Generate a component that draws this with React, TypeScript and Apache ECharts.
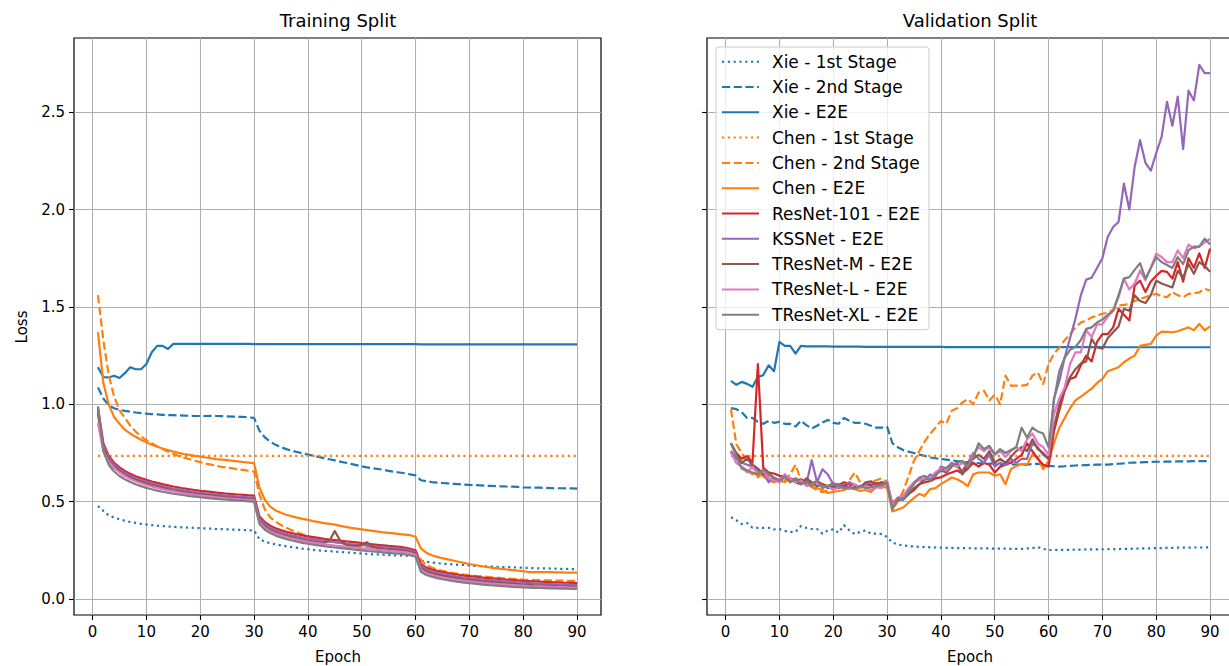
import React, { useEffect, useRef } from "react";
import * as echarts from "echarts";

const epochs = Array.from({ length: 90 }, (_, i) => i + 1);
const xTicks = [0, 10, 20, 30, 40, 50, 60, 70, 80, 90];
const yTicks = [0, 0.5, 1.0, 1.5, 2.0, 2.5];

const seriesNames = [
  "Xie - 1st Stage", "Xie - 2nd Stage", "Xie - E2E",
  "Chen - 1st Stage", "Chen - 2nd Stage", "Chen - E2E",
  "ResNet-101 - E2E", "KSSNet - E2E", "TResNet-M - E2E", "TResNet-L - E2E", "TResNet-XL - E2E",
];

// ---------------- Training split ----------------
const trainXie1 = [
  0.478,0.453,0.430,0.418,0.410,0.402,0.396,0.391,0.386,0.383,
  0.380,0.377,0.375,0.373,0.371,0.369,0.368,0.367,0.365,0.364,
  0.363,0.362,0.360,0.359,0.358,0.357,0.356,0.355,0.353,0.352,
  0.307,0.295,0.287,0.281,0.276,0.271,0.267,0.263,0.259,0.256,
  0.253,0.250,0.248,0.246,0.244,0.242,0.240,0.238,0.236,0.234,
  0.232,0.230,0.229,0.228,0.226,0.225,0.224,0.223,0.222,0.221,
  0.198,0.192,0.188,0.185,0.182,0.180,0.178,0.176,0.175,0.173,
  0.171,0.170,0.168,0.167,0.166,0.165,0.164,0.163,0.162,0.161,
  0.160,0.159,0.158,0.158,0.157,0.156,0.155,0.155,0.154,0.153,
];
const trainXie2 = [
  1.087,1.030,0.995,0.980,0.972,0.966,0.962,0.958,0.955,0.952,
  0.950,0.948,0.946,0.945,0.944,0.943,0.942,0.941,0.940,0.940,
  0.940,0.941,0.940,0.939,0.938,0.937,0.936,0.935,0.933,0.930,
  0.864,0.830,0.808,0.792,0.780,0.770,0.762,0.755,0.748,0.742,
  0.736,0.730,0.724,0.718,0.712,0.706,0.700,0.694,0.688,0.682,
  0.676,0.672,0.668,0.664,0.658,0.654,0.650,0.646,0.640,0.635,
  0.610,0.605,0.601,0.598,0.596,0.594,0.592,0.590,0.588,0.586,
  0.585,0.584,0.582,0.581,0.580,0.579,0.578,0.577,0.576,0.574,
  0.573,0.572,0.572,0.571,0.570,0.569,0.569,0.568,0.568,0.567,
];
const trainXieE2E = [
  1.190,1.140,1.138,1.147,1.135,1.160,1.190,1.180,1.180,1.207,
  1.267,1.300,1.300,1.284,1.310,1.310,1.310,1.310,1.310,1.310,
  1.310,1.310,1.310,1.310,1.310,1.310,1.310,1.310,1.310,1.309,
  1.309,1.309,1.309,1.309,1.309,1.309,1.309,1.309,1.309,1.309,
  1.309,1.309,1.309,1.309,1.309,1.309,1.309,1.309,1.309,1.309,
  1.309,1.309,1.309,1.309,1.309,1.309,1.309,1.309,1.309,1.309,
  1.308,1.308,1.308,1.308,1.308,1.308,1.308,1.308,1.308,1.308,
  1.308,1.308,1.308,1.308,1.308,1.308,1.308,1.308,1.308,1.308,
  1.308,1.308,1.308,1.308,1.308,1.308,1.308,1.308,1.308,1.308,
];
const trainChen1 = [
  0.735,0.735,0.735,0.735,0.735,0.735,0.735,0.735,0.735,0.735,
  0.735,0.735,0.735,0.735,0.735,0.735,0.735,0.735,0.735,0.735,
  0.735,0.735,0.735,0.735,0.735,0.735,0.735,0.735,0.735,0.735,
  0.735,0.735,0.735,0.735,0.735,0.735,0.735,0.735,0.735,0.735,
  0.735,0.735,0.735,0.735,0.735,0.735,0.735,0.735,0.735,0.735,
  0.735,0.735,0.735,0.735,0.735,0.735,0.735,0.735,0.735,0.735,
  0.735,0.735,0.735,0.735,0.735,0.735,0.735,0.735,0.735,0.735,
  0.735,0.735,0.735,0.735,0.735,0.735,0.735,0.735,0.735,0.735,
  0.735,0.735,0.735,0.735,0.735,0.735,0.735,0.735,0.735,0.735,
];
const trainChen2 = [
  1.560,1.330,1.150,1.040,0.970,0.930,0.890,0.860,0.835,0.816,
  0.800,0.785,0.770,0.758,0.746,0.735,0.726,0.718,0.710,0.703,
  0.696,0.690,0.684,0.679,0.675,0.671,0.667,0.663,0.659,0.655,
  0.538,0.460,0.420,0.398,0.380,0.366,0.354,0.343,0.333,0.324,
  0.315,0.308,0.302,0.297,0.292,0.287,0.283,0.279,0.275,0.272,
  0.269,0.266,0.263,0.260,0.258,0.256,0.254,0.252,0.250,0.248,
  0.200,0.175,0.162,0.152,0.145,0.139,0.134,0.130,0.126,0.123,
  0.120,0.117,0.115,0.112,0.110,0.108,0.106,0.104,0.102,0.100,
  0.099,0.098,0.097,0.096,0.096,0.095,0.095,0.094,0.094,0.093,
];
const trainChenE2E = [
  1.370,1.110,1.000,0.935,0.900,0.870,0.850,0.833,0.818,0.805,
  0.792,0.782,0.773,0.765,0.758,0.751,0.745,0.740,0.735,0.731,
  0.727,0.723,0.719,0.716,0.713,0.710,0.707,0.704,0.701,0.698,
  0.572,0.510,0.475,0.455,0.443,0.433,0.425,0.418,0.412,0.407,
  0.400,0.395,0.390,0.386,0.382,0.376,0.371,0.366,0.362,0.358,
  0.354,0.350,0.346,0.343,0.340,0.337,0.334,0.331,0.328,0.320,
  0.260,0.238,0.225,0.217,0.210,0.204,0.198,0.192,0.186,0.180,
  0.175,0.170,0.166,0.162,0.158,0.155,0.152,0.149,0.146,0.144,
  0.139,0.139,0.138,0.138,0.138,0.137,0.137,0.136,0.136,0.136,
];
const trainResNet = [
  0.985,0.800,0.735,0.700,0.676,0.658,0.643,0.631,0.621,0.612,
  0.604,0.597,0.590,0.584,0.578,0.573,0.568,0.564,0.560,0.556,
  0.553,0.550,0.547,0.544,0.541,0.539,0.537,0.535,0.533,0.531,
  0.425,0.395,0.377,0.364,0.354,0.346,0.339,0.333,0.327,0.322,
  0.318,0.314,0.310,0.306,0.303,0.300,0.297,0.294,0.291,0.287,
  0.284,0.281,0.278,0.276,0.273,0.271,0.268,0.265,0.258,0.250,
  0.180,0.162,0.152,0.145,0.139,0.134,0.129,0.125,0.121,0.118,
  0.115,0.112,0.109,0.107,0.105,0.102,0.100,0.098,0.096,0.094,
  0.093,0.091,0.090,0.088,0.087,0.086,0.085,0.084,0.083,0.082,
];
const trainKSS = [
  0.950,0.790,0.725,0.690,0.666,0.648,0.633,0.621,0.611,0.602,
  0.594,0.587,0.580,0.574,0.568,0.563,0.558,0.554,0.550,0.546,
  0.543,0.540,0.537,0.534,0.531,0.529,0.527,0.525,0.523,0.521,
  0.412,0.383,0.366,0.353,0.343,0.335,0.328,0.322,0.316,0.311,
  0.307,0.303,0.299,0.295,0.292,0.289,0.286,0.283,0.281,0.278,
  0.275,0.272,0.269,0.267,0.264,0.262,0.259,0.256,0.250,0.242,
  0.170,0.152,0.142,0.135,0.129,0.124,0.119,0.115,0.111,0.108,
  0.105,0.102,0.099,0.097,0.095,0.092,0.090,0.088,0.086,0.084,
  0.083,0.081,0.080,0.078,0.077,0.076,0.075,0.074,0.073,0.072,
];
const trainTResM = [
  0.960,0.775,0.712,0.680,0.657,0.639,0.624,0.612,0.602,0.593,
  0.585,0.578,0.571,0.565,0.559,0.554,0.549,0.545,0.541,0.538,
  0.535,0.532,0.529,0.526,0.523,0.521,0.519,0.517,0.515,0.513,
  0.402,0.373,0.356,0.343,0.333,0.325,0.318,0.312,0.306,0.301,
  0.297,0.293,0.290,0.300,0.350,0.300,0.280,0.275,0.272,0.279,
  0.292,0.268,0.260,0.257,0.255,0.253,0.251,0.248,0.242,0.235,
  0.160,0.143,0.133,0.126,0.120,0.115,0.110,0.106,0.102,0.099,
  0.096,0.093,0.090,0.088,0.086,0.083,0.081,0.079,0.077,0.075,
  0.074,0.072,0.071,0.069,0.068,0.067,0.066,0.065,0.064,0.063,
];
const trainTResL = [
  0.905,0.760,0.705,0.673,0.650,0.632,0.617,0.605,0.595,0.586,
  0.578,0.571,0.564,0.558,0.553,0.548,0.543,0.539,0.535,0.532,
  0.529,0.526,0.523,0.520,0.517,0.515,0.513,0.511,0.509,0.507,
  0.395,0.366,0.349,0.336,0.326,0.318,0.311,0.305,0.299,0.294,
  0.290,0.286,0.282,0.279,0.275,0.272,0.269,0.266,0.264,0.261,
  0.258,0.256,0.253,0.251,0.248,0.246,0.244,0.241,0.236,0.228,
  0.150,0.133,0.124,0.117,0.111,0.106,0.101,0.097,0.094,0.091,
  0.088,0.085,0.082,0.080,0.078,0.076,0.074,0.072,0.070,0.069,
  0.067,0.066,0.065,0.064,0.063,0.062,0.061,0.060,0.059,0.059,
];
const trainTResXL = [
  0.990,0.760,0.690,0.655,0.632,0.615,0.601,0.590,0.580,0.571,
  0.564,0.557,0.551,0.546,0.541,0.537,0.533,0.529,0.526,0.523,
  0.520,0.517,0.515,0.512,0.510,0.508,0.506,0.504,0.502,0.500,
  0.385,0.356,0.339,0.326,0.316,0.308,0.301,0.295,0.289,0.284,
  0.280,0.276,0.272,0.268,0.265,0.262,0.259,0.256,0.253,0.250,
  0.247,0.245,0.242,0.240,0.237,0.235,0.233,0.230,0.225,0.218,
  0.140,0.124,0.115,0.108,0.102,0.097,0.092,0.088,0.085,0.082,
  0.079,0.076,0.073,0.071,0.069,0.067,0.065,0.063,0.062,0.060,
  0.059,0.058,0.057,0.056,0.055,0.055,0.054,0.054,0.053,0.053,
];

// ---------------- Validation split ----------------
const valXie1 = [
  0.420,0.405,0.385,0.390,0.367,0.366,0.366,0.366,0.358,0.360,
  0.350,0.345,0.345,0.375,0.366,0.360,0.360,0.336,0.353,0.358,
  0.341,0.379,0.353,0.334,0.345,0.353,0.336,0.336,0.334,0.319,
  0.290,0.280,0.276,0.272,0.270,0.268,0.267,0.266,0.265,0.264,
  0.263,0.263,0.262,0.262,0.261,0.261,0.260,0.260,0.260,0.259,
  0.259,0.259,0.258,0.258,0.258,0.260,0.262,0.267,0.258,0.252,
  0.252,0.253,0.253,0.253,0.254,0.254,0.255,0.255,0.255,0.256,
  0.256,0.257,0.257,0.258,0.258,0.259,0.260,0.260,0.261,0.262,
  0.262,0.263,0.263,0.264,0.264,0.264,0.265,0.265,0.265,0.266,
];
const valXie2 = [
  0.980,0.975,0.960,0.930,0.930,0.910,0.900,0.915,0.905,0.910,
  0.900,0.900,0.886,0.916,0.893,0.876,0.890,0.907,0.920,0.905,
  0.900,0.930,0.915,0.905,0.905,0.900,0.890,0.880,0.880,0.885,
  0.800,0.780,0.765,0.757,0.750,0.742,0.735,0.727,0.723,0.720,
  0.716,0.712,0.709,0.705,0.702,0.700,0.698,0.697,0.696,0.695,
  0.694,0.693,0.692,0.691,0.690,0.690,0.693,0.695,0.690,0.684,
  0.682,0.680,0.682,0.684,0.686,0.687,0.688,0.689,0.690,0.690,
  0.690,0.693,0.695,0.697,0.700,0.701,0.702,0.703,0.704,0.705,
  0.705,0.706,0.706,0.707,0.707,0.707,0.708,0.708,0.708,0.709,
];
const valXieE2E = [
  1.120,1.100,1.115,1.105,1.090,1.140,1.150,1.200,1.170,1.320,
  1.300,1.300,1.260,1.300,1.297,1.297,1.298,1.297,1.297,1.296,
  1.296,1.296,1.296,1.296,1.296,1.295,1.295,1.295,1.295,1.295,
  1.295,1.295,1.295,1.295,1.295,1.295,1.295,1.295,1.295,1.295,
  1.294,1.294,1.294,1.294,1.294,1.294,1.294,1.294,1.294,1.294,
  1.294,1.294,1.294,1.294,1.294,1.294,1.294,1.294,1.294,1.294,
  1.294,1.294,1.294,1.294,1.294,1.294,1.294,1.294,1.294,1.294,
  1.293,1.293,1.293,1.293,1.293,1.293,1.293,1.293,1.293,1.293,
  1.293,1.293,1.293,1.293,1.293,1.293,1.293,1.293,1.293,1.293,
];
const valChen1 = [
  0.735,0.735,0.735,0.735,0.735,0.735,0.735,0.735,0.735,0.735,
  0.735,0.735,0.735,0.735,0.735,0.735,0.735,0.735,0.735,0.735,
  0.735,0.735,0.735,0.735,0.735,0.735,0.735,0.735,0.735,0.735,
  0.735,0.735,0.735,0.735,0.735,0.735,0.735,0.735,0.735,0.735,
  0.735,0.735,0.735,0.735,0.735,0.735,0.735,0.735,0.735,0.735,
  0.735,0.735,0.735,0.735,0.735,0.735,0.735,0.735,0.735,0.735,
  0.735,0.735,0.735,0.735,0.735,0.735,0.735,0.735,0.735,0.735,
  0.735,0.735,0.735,0.735,0.735,0.735,0.735,0.735,0.735,0.735,
  0.735,0.735,0.735,0.735,0.735,0.735,0.735,0.735,0.735,0.735,
];
const valChen2 = [
  0.975,0.795,0.750,0.710,0.680,0.625,0.650,0.630,0.620,0.605,
  0.610,0.640,0.690,0.610,0.590,0.575,0.560,0.548,0.560,0.575,
  0.580,0.575,0.610,0.650,0.600,0.585,0.600,0.610,0.620,0.600,
  0.460,0.500,0.555,0.630,0.710,0.760,0.810,0.850,0.880,0.915,
  0.900,0.967,0.980,1.010,1.027,1.000,1.060,1.070,1.020,1.050,
  1.000,1.147,1.096,1.096,1.096,1.100,1.147,1.164,1.104,1.207,
  1.260,1.290,1.330,1.360,1.395,1.420,1.430,1.447,1.455,1.465,
  1.470,1.485,1.507,1.510,1.516,1.530,1.540,1.550,1.560,1.567,
  1.555,1.550,1.576,1.560,1.550,1.567,1.570,1.575,1.593,1.584,
];
const valChenE2E = [
  0.760,0.700,0.680,0.660,0.640,0.650,0.630,0.610,0.600,0.610,
  0.600,0.620,0.600,0.590,0.610,0.580,0.570,0.560,0.545,0.550,
  0.555,0.560,0.570,0.565,0.555,0.560,0.550,0.575,0.580,0.570,
  0.450,0.460,0.470,0.495,0.520,0.540,0.530,0.565,0.570,0.590,
  0.607,0.624,0.615,0.600,0.580,0.641,0.650,0.650,0.650,0.633,
  0.641,0.590,0.667,0.684,0.693,0.690,0.744,0.727,0.667,0.710,
  0.800,0.880,0.930,0.980,1.020,1.040,1.060,1.080,1.110,1.130,
  1.170,1.180,1.190,1.216,1.235,1.250,1.300,1.305,1.310,1.353,
  1.373,1.372,1.370,1.375,1.385,1.395,1.380,1.413,1.380,1.400,
];
const valResNet = [
  0.800,0.750,0.720,0.735,0.700,1.207,0.675,0.650,0.645,0.633,
  0.630,0.620,0.610,0.615,0.600,0.595,0.605,0.590,0.580,0.595,
  0.585,0.600,0.590,0.575,0.580,0.590,0.585,0.595,0.590,0.595,
  0.490,0.520,0.515,0.540,0.560,0.590,0.600,0.605,0.620,0.625,
  0.640,0.650,0.660,0.645,0.670,0.700,0.680,0.700,0.690,0.650,
  0.680,0.690,0.700,0.720,0.740,0.800,0.760,0.720,0.690,0.680,
  0.860,0.970,1.070,1.130,1.140,1.200,1.250,1.220,1.320,1.360,
  1.360,1.395,1.490,1.460,1.430,1.610,1.635,1.576,1.630,1.660,
  1.685,1.680,1.645,1.730,1.630,1.750,1.700,1.775,1.700,1.800,
];
const valKSS = [
  0.760,0.720,0.700,0.690,0.680,0.660,0.650,0.600,0.625,0.610,
  0.640,0.600,0.620,0.600,0.590,0.713,0.600,0.667,0.640,0.590,
  0.590,0.580,0.600,0.585,0.575,0.590,0.600,0.590,0.600,0.585,
  0.470,0.510,0.530,0.560,0.600,0.620,0.610,0.640,0.630,0.680,
  0.670,0.700,0.680,0.660,0.700,0.750,0.720,0.700,0.740,0.680,
  0.700,0.690,0.720,0.700,0.720,0.720,0.800,0.780,0.740,0.720,
  1.030,1.120,1.240,1.340,1.440,1.560,1.640,1.650,1.700,1.750,
  1.860,1.910,1.936,2.133,2.000,2.220,2.356,2.240,2.200,2.290,
  2.373,2.553,2.430,2.580,2.310,2.610,2.560,2.742,2.700,2.700,
];
const valTResM = [
  0.800,0.740,0.700,0.720,0.690,0.670,0.640,0.650,0.620,0.600,
  0.630,0.610,0.600,0.590,0.620,0.600,0.580,0.590,0.570,0.580,
  0.570,0.585,0.575,0.580,0.570,0.600,0.605,0.590,0.600,0.595,
  0.480,0.510,0.510,0.540,0.570,0.590,0.620,0.610,0.640,0.660,
  0.650,0.680,0.700,0.640,0.700,0.720,0.740,0.720,0.760,0.700,
  0.720,0.700,0.730,0.760,0.780,0.760,0.820,0.770,0.750,0.720,
  0.880,1.000,1.080,1.140,1.180,1.210,1.220,1.336,1.293,1.285,
  1.340,1.370,1.400,1.490,1.480,1.560,1.530,1.520,1.560,1.635,
  1.620,1.610,1.600,1.685,1.650,1.720,1.670,1.730,1.710,1.680,
];
const valTResL = [
  0.750,0.700,0.680,0.650,0.680,0.640,0.660,0.620,0.610,0.600,
  0.640,0.620,0.600,0.610,0.580,0.590,0.600,0.575,0.580,0.560,
  0.575,0.570,0.565,0.590,0.570,0.580,0.560,0.575,0.570,0.610,
  0.480,0.520,0.530,0.570,0.600,0.610,0.620,0.620,0.650,0.670,
  0.660,0.690,0.680,0.700,0.680,0.740,0.780,0.760,0.780,0.740,
  0.760,0.730,0.760,0.780,0.760,0.820,0.850,0.800,0.780,0.740,
  0.950,1.030,1.087,1.207,1.267,1.267,1.380,1.345,1.410,1.410,
  1.450,1.480,1.550,1.645,1.590,1.620,1.687,1.636,1.700,1.773,
  1.756,1.730,1.730,1.790,1.750,1.820,1.800,1.810,1.830,1.850,
];
const valTResXL = [
  0.800,0.735,0.670,0.660,0.650,0.640,0.667,0.640,0.620,0.610,
  0.630,0.600,0.620,0.590,0.600,0.580,0.610,0.570,0.580,0.590,
  0.580,0.570,0.575,0.565,0.580,0.570,0.575,0.580,0.585,0.598,
  0.460,0.520,0.510,0.555,0.590,0.624,0.633,0.610,0.640,0.660,
  0.676,0.685,0.700,0.710,0.680,0.727,0.800,0.770,0.787,0.744,
  0.770,0.750,0.765,0.780,0.880,0.830,0.880,0.860,0.850,0.780,
  1.020,1.170,1.240,1.280,1.295,1.330,1.387,1.395,1.420,1.435,
  1.460,1.480,1.560,1.645,1.653,1.690,1.725,1.645,1.700,1.756,
  1.730,1.715,1.700,1.756,1.720,1.790,1.810,1.810,1.850,1.820,
];

const trainData = [trainXie1, trainXie2, trainXieE2E, trainChen1, trainChen2, trainChenE2E,
  trainResNet, trainKSS, trainTResM, trainTResL, trainTResXL];
const valData = [valXie1, valXie2, valXieE2E, valChen1, valChen2, valChenE2E,
  valResNet, valKSS, valTResM, valTResL, valTResXL];

const BLUE = "#1f77b4", ORANGE = "#ff7f0e";
const seriesColors = [BLUE, BLUE, BLUE, ORANGE, ORANGE, ORANGE,
  "#d62728", "#9467bd", "#8c564b", "#e377c2", "#7f7f7f"];
const LW = 2.2;
const DOT = [LW, 3.6];
const DASH = [8.2, 3.5];
const seriesDash: any[] = [DOT, DASH, "solid", DOT, DASH, "solid",
  "solid", "solid", "solid", "solid", "solid"];

const FONT = "DejaVu Sans";

function makeAxes(idx: number, showYLabels: boolean) {
  const x = {
    type: "value", gridIndex: idx, min: -3.45, max: 94.45,
    axisLine: { show: false, onZero: false },
    axisTick: { show: true, length: 5, customValues: xTicks, lineStyle: { color: "#000", width: 1.1 } },
    axisLabel: { customValues: xTicks, fontFamily: FONT, fontSize: 15, color: "#000", margin: 9 },
    splitLine: { show: true, lineStyle: { color: "#b0b0b0", width: 1.1 } },
  };
  const y = {
    type: "value", gridIndex: idx, min: -0.0816, max: 2.8805,
    axisLine: { show: false, onZero: false },
    axisTick: { show: true, length: 5, customValues: yTicks, lineStyle: { color: "#000", width: 1.1 } },
    axisLabel: { show: showYLabels, customValues: yTicks, fontFamily: FONT, fontSize: 15, color: "#000", margin: 9,
      formatter: (v: number) => v.toFixed(1) },
    splitLine: { show: true, lineStyle: { color: "#b0b0b0", width: 1.1 } },
  };
  return { x, y };
}

export default function App() {
  const ref = useRef<HTMLDivElement>(null);
  useEffect(() => {
    if (!ref.current) return;
    const chart = echarts.init(ref.current, undefined, { renderer: "svg" });
    const a0 = makeAxes(0, true);
    const a1 = makeAxes(1, false);
    const series: any[] = [];
    [trainData, valData].forEach((set, gi) => {
      set.forEach((vals, si) => {
        series.push({
          name: seriesNames[si], type: "line", xAxisIndex: gi, yAxisIndex: gi,
          data: epochs.map((e, i) => [e, vals[i]]),
          symbol: "none", showSymbol: false, silent: true,
          lineStyle: { color: seriesColors[si], width: LW, type: seriesDash[si], cap: "butt", join: "round" },
          itemStyle: { color: seriesColors[si] },
          emphasis: { disabled: true },
        });
      });
    });
    chart.setOption({
      animation: false,
      backgroundColor: "#ffffff",
      grid: [
        { left: 74, top: 38, width: 527, height: 577, show: true, borderColor: "#000", borderWidth: 1.2,
          containLabel: false, outerBoundsMode: "none" },
        { left: 707, top: 38, width: 527, height: 577, show: true, borderColor: "#000", borderWidth: 1.2,
          containLabel: false, outerBoundsMode: "none" },
      ],
      xAxis: [a0.x, a1.x],
      yAxis: [a0.y, a1.y],
      legend: {
        data: seriesNames, orient: "vertical", left: 716, top: 47,
        itemWidth: 37, itemHeight: 20, itemGap: 5.3,
        padding: [4.7, 9, 5, 5],
        backgroundColor: "rgba(255,255,255,0.8)", borderColor: "#cccccc", borderWidth: 1, borderRadius: 3,
        textStyle: { fontFamily: FONT, fontSize: 17, color: "#000", lineHeight: 20, padding: [0, 0, 0, 8] },
        itemStyle: { opacity: 0 },
        selectedMode: false,
      },
      graphic: [
        { type: "text", x: 338, y: 20, style: { text: "Training Split", font: `18px '${FONT}'`, fill: "#000", align: "center", verticalAlign: "middle" } },
        { type: "text", x: 970, y: 20, style: { text: "Validation Split", font: `18px '${FONT}'`, fill: "#000", align: "center", verticalAlign: "middle" } },
        { type: "text", x: 338, y: 657, style: { text: "Epoch", font: `15px '${FONT}'`, fill: "#000", align: "center", verticalAlign: "middle" } },
        { type: "text", x: 970, y: 657, style: { text: "Epoch", font: `15px '${FONT}'`, fill: "#000", align: "center", verticalAlign: "middle" } },
        { type: "text", x: 22, y: 327, rotation: Math.PI / 2, style: { text: "Loss", font: `15px '${FONT}'`, fill: "#000", align: "center", verticalAlign: "middle" } },
      ],
      series,
    });
    return () => chart.dispose();
  }, []);
  return <div ref={ref} style={{ position: "fixed", left: 0, top: 0, width: 1229, height: 666 }} />;
}
